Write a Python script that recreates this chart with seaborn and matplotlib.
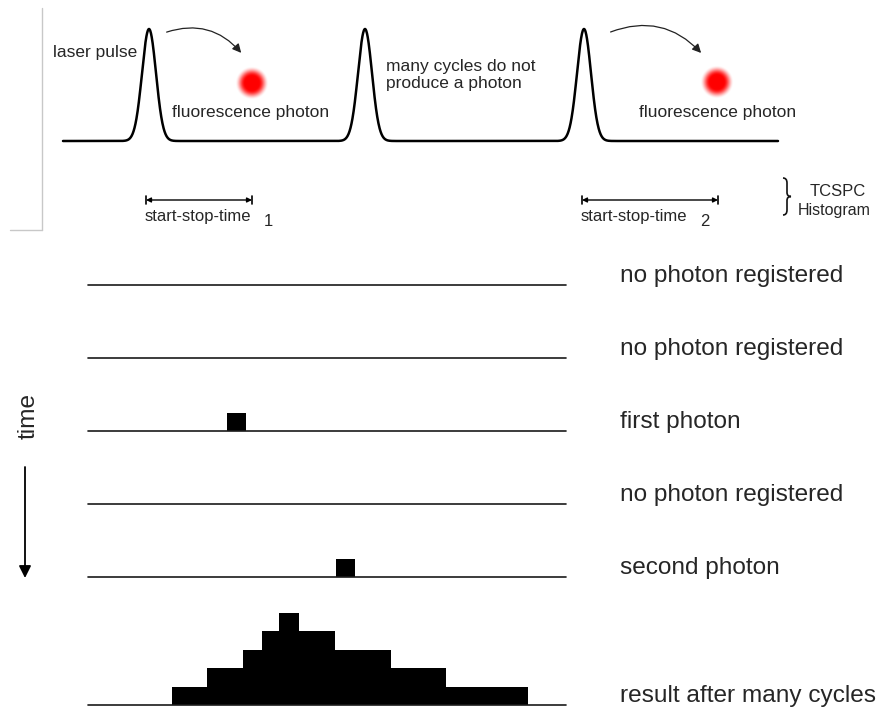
import numpy as np
import pandas as pd
import matplotlib.pyplot as plt
import seaborn as sns
from matplotlib.patches import FancyArrowPatch, PathPatch
from matplotlib.path import Path

# canvas in pixels, everything in the top panel is placed in pixel coords
W, H = 881, 713

# top panel: laser pulse train
pulse_centers = [149, 365, 584]
pulse_height = 112
pulse_sigma = 7
trace_base = 141
trace_start, trace_end = 63, 778
photon_spots = [(252, 83), (717, 82)]
photon_arrows = [((164, 33), (243, 55)), ((608, 33), (703, 55))]
stop_spans = [(146, 252), (582, 718)]

# bottom panel: TCSPC rows (time axis in arbitrary units 0..100)
row_labels = ["no photon registered", "no photon registered", "first photon",
              "no photon registered", "second photon", "result after many cycles"]
row_baselines = [285, 358, 431, 504, 577, 705]
photon_bins = [None, None, (29.1, 33.1), None, (51.9, 55.9), None]
hist_edges = [17.6, 24.9, 32.4, 36.4, 40.0, 44.1, 51.7, 63.4, 74.9, 92.1]
hist_counts = [1, 2, 3, 4, 5, 4, 3, 2, 1]

sns.set_style("white")
plt.rcParams['font.family'] = ['Liberation Sans', 'DejaVu Sans']


def glow(ax, cx, cy, r_core=7, r_out=17):
    g = np.linspace(-r_out, r_out, 81)
    xx, yy = np.meshgrid(g, g)
    r = np.hypot(xx, yy)
    img = np.zeros((81, 81, 4))
    img[..., 0] = 1.0
    t = np.clip((r_out - r) / (r_out - r_core), 0, 1)
    img[..., 3] = t * t * (3 - 2 * t)
    ax.imshow(img, extent=(cx - r_out, cx + r_out, cy + r_out, cy - r_out),
              aspect='auto', interpolation='bilinear', zorder=3)


def brace(ax, x, y0, y1):
    ym = (y0 + y1) / 2
    verts = [(x - 4, y0), (x, y0), (x, y0 + 5),
             (x, ym - 4), (x, ym), (x + 4, ym),
             (x, ym), (x, ym + 4),
             (x, y1 - 5), (x, y1), (x - 4, y1)]
    codes = [Path.MOVETO, Path.CURVE3, Path.CURVE3,
             Path.LINETO, Path.CURVE3, Path.CURVE3,
             Path.CURVE3, Path.CURVE3,
             Path.LINETO, Path.CURVE3, Path.CURVE3]
    ax.add_patch(PathPatch(Path(verts, codes), fill=False, lw=1.2, color='#111'))


def draw_top(ax):
    x = np.linspace(trace_start, trace_end, 3000)
    y = np.full_like(x, trace_base, dtype=float)
    for c in pulse_centers:
        y -= pulse_height * np.exp(-(x - c) ** 2 / (2 * pulse_sigma ** 2))
    sns.lineplot(x=x, y=y, ax=ax, color='black', lw=1.8, sort=False, estimator=None)

    for cx, cy in photon_spots:
        glow(ax, cx, cy)
    for start, end in photon_arrows:
        ax.add_patch(FancyArrowPatch(start, end, connectionstyle="arc3,rad=-0.35",
                                     arrowstyle='-|>', mutation_scale=13, lw=0.9, color='#222'))

    fs = 12.5
    ax.text(53, 53, "laser pulse", fontsize=fs, va='center', ha='left')
    ax.text(172, 113, "fluorescence photon", fontsize=fs, va='center', ha='left')
    ax.text(639, 113, "fluorescence photon", fontsize=fs, va='center', ha='left')
    ax.text(386, 75, "many cycles do not\nproduce a photon", fontsize=fs,
            va='center', ha='left', linespacing=1.2)

    for i, (a, b) in enumerate(stop_spans):
        ax.annotate('', xy=(a, 200), xytext=(b, 200),
                    arrowprops=dict(arrowstyle='<|-|>', mutation_scale=7, lw=1,
                                    color='black', shrinkA=0, shrinkB=0))
        for xe in (a, b):
            ax.plot([xe, xe], [196, 204], color='black', lw=1.2)
        ax.text(a - 1, 217, "start-stop-time", fontsize=12, va='center', ha='left')
        ax.text(a + 118, 221, str(i + 1), fontsize=12, va='center', ha='left')

    brace(ax, 787, 178, 215)
    ax.text(838, 192, "TCSPC", fontsize=12, va='center', ha='center')
    ax.text(834, 210, "Histogram", fontsize=11.5, va='center', ha='center')

    # faint frame of the original inset
    ax.plot([41.5, 41.5], [8, 230], color='#c8c8c8', lw=1)
    ax.plot([10, 41.5], [230, 230], color='#c8c8c8', lw=1)

    # time arrow
    ax.text(29, 416, "time", fontsize=17.6, rotation=90, va='center', ha='center')
    ax.annotate('', xy=(25, 578), xytext=(25, 467),
                arrowprops=dict(arrowstyle='-|>', mutation_scale=18, lw=1.3,
                                color='black', shrinkA=0, shrinkB=0))

    for lab, yb in zip(row_labels, row_baselines):
        ax.text(620, yb - 9, lab, fontsize=17.6, va='center', ha='left')


def draw_row(fig, yb, height_px, bins=None, counts=None):
    px_per_count = 18.4
    rect = [88 / W, (H - yb) / H, (566 - 88) / W, height_px / H]
    ax = fig.add_axes(rect)
    ax.set_xlim(0, 100)
    ax.set_ylim(0, height_px / px_per_count)
    ax.axhline(0, color='#1a1a1a', lw=1.2, clip_on=False)
    if bins is not None:
        centers = [(bins[k] + bins[k + 1]) / 2 for k in range(len(bins) - 1)]
        df = pd.DataFrame({'t': centers, 'n': counts})
        sns.histplot(data=df, x='t', weights='n', bins=bins, ax=ax,
                     color='black', alpha=1, linewidth=0, element='bars')
    ax.set_axis_off()


def main():
    fig = plt.figure(figsize=(W / 100, H / 100), dpi=100)
    ax = fig.add_axes([0, 0, 1, 1])
    draw_top(ax)
    ax.set_xlim(0, W)
    ax.set_ylim(H, 0)
    ax.set_axis_off()

    for yb, pb in zip(row_baselines[:-1], photon_bins[:-1]):
        if pb is None:
            draw_row(fig, yb, 25)
        else:
            draw_row(fig, yb, 25, bins=list(pb), counts=[1])
    draw_row(fig, row_baselines[-1], 105, bins=hist_edges, counts=hist_counts)

    fig.savefig('out.png', dpi=100, facecolor='white')


if __name__ == "__main__":
    main()
